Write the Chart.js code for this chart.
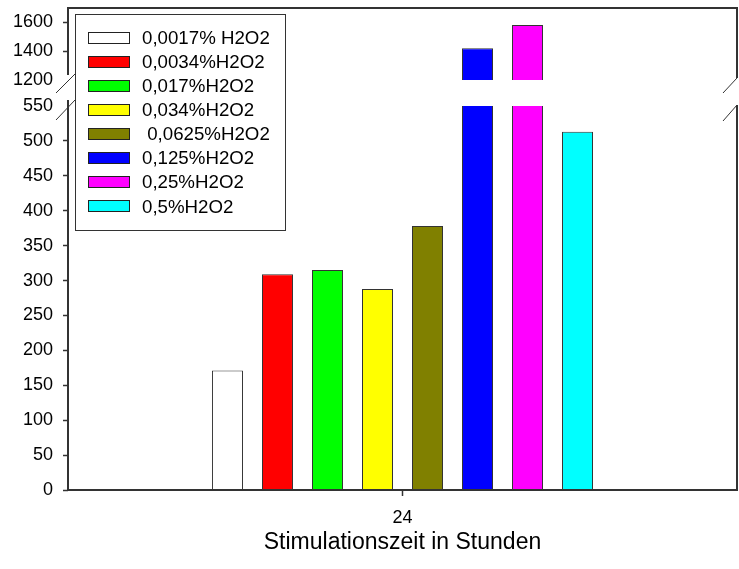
<!DOCTYPE html>
<html lang="de">
<head>
  <meta charset="UTF-8">
  <title>H2O2 Stimulation</title>
  <script src="https://cdn.jsdelivr.net/npm/chart.js@4.4.1/dist/chart.umd.min.js"></script>
  <style>
    html, body { margin: 0; padding: 0; background: #fff; }
    canvas { display: block; }
  </style>
</head>
<body>
  <canvas id="chart" width="739" height="569"></canvas>
  <script>
    // data
    const categories = ['24'];
    const seriesLabels = ['0,0017% H2O2', '0,0034%H2O2', '0,017%H2O2', '0,034%H2O2',
                          ' 0,0625%H2O2', '0,125%H2O2', '0,25%H2O2', '0,5%H2O2'];
    const seriesValues = [171, 309, 315, 288, 378, 1420, 1582, 513];
    const seriesColors = ['#ffffff', '#ff0000', '#00ff00', '#ffff00',
                          '#808000', '#0000ff', '#ff00ff', '#00ffff'];
    const lowerRange = [0, 550];
    const upperRange = [1200, 1700];
    const xTitle = 'Stimulationszeit in Stunden';

    Chart.defaults.font.family = '"Liberation Sans", Arial, sans-serif';
    Chart.defaults.font.size = 18;
    Chart.defaults.color = '#000';

    var datasets = [];
    ['yLow', 'yHigh'].forEach(function(axisId) {
      seriesLabels.forEach(function(label, i) {
        datasets.push({
          label: label,
          data: [seriesValues[i]],
          backgroundColor: seriesColors[i],
          borderColor: '#333',
          borderWidth: 1,
          yAxisID: axisId,
          stack: 's' + i
        });
      });
    });

    function fixWidth(scale) {
      scale.width = 68;
      scale.paddingTop = 0;
      scale.paddingBottom = 0;
    }

    // keep each bar inside the segment of its own y axis
    var clipToAxis = {
      id: 'clipToAxis',
      beforeDatasetDraw: function(chart, args) {
        var y = args.meta.yScale, ca = chart.chartArea, ctx = chart.ctx;
        ctx.save();
        ctx.beginPath();
        ctx.rect(ca.left, y.top, ca.right - ca.left, y.bottom - y.top);
        ctx.clip();
      },
      afterDatasetDraw: function(chart) {
        chart.ctx.restore();
      }
    };

    // frame with the axis break marks
    var framePlugin = {
      id: 'framePlugin',
      afterDatasetsDraw: function(chart) {
        var ctx = chart.ctx, ca = chart.chartArea;
        var a = chart.scales.yHigh.bottom, b = chart.scales.yLow.top;
        var l = ca.left, r = ca.right;
        ctx.save();
        ctx.strokeStyle = '#333';
        ctx.lineWidth = 2;
        ctx.beginPath();
        ctx.moveTo(l - 1, ca.top); ctx.lineTo(r + 1, ca.top);
        ctx.moveTo(l - 1, ca.bottom); ctx.lineTo(r + 1, ca.bottom);
        ctx.moveTo(l, ca.top); ctx.lineTo(l, a - 5);
        ctx.moveTo(l, b - 6); ctx.lineTo(l, ca.bottom);
        ctx.moveTo(r, ca.top); ctx.lineTo(r, a - 2);
        ctx.moveTo(r, b - 1); ctx.lineTo(r, ca.bottom);
        ctx.stroke();
        ctx.lineWidth = 1;
        ctx.beginPath();
        ctx.moveTo(l - 12, a + 13); ctx.lineTo(l + 7, a - 6);
        ctx.moveTo(l - 12, b + 14); ctx.lineTo(l + 7, b - 6);
        ctx.moveTo(r - 14, a + 13); ctx.lineTo(r, a - 2);
        ctx.moveTo(r - 14, b + 15); ctx.lineTo(r, b - 1);
        ctx.stroke();
        ctx.restore();
      }
    };

    // boxed legend inside the plot, top left
    var boxLegend = {
      id: 'boxLegend',
      afterDraw: function(chart) {
        var ctx = chart.ctx;
        ctx.save();
        ctx.fillStyle = '#fff';
        ctx.fillRect(75, 14, 210, 216);
        ctx.strokeStyle = '#333';
        ctx.lineWidth = 1;
        ctx.strokeRect(75.5, 14.5, 210, 216);
        ctx.font = '18.7px "Liberation Sans", Arial, sans-serif';
        ctx.textBaseline = 'middle';
        seriesLabels.forEach(function(label, i) {
          var cy = 37.7 + i * 24.1;
          ctx.fillStyle = seriesColors[i];
          ctx.fillRect(88, Math.round(cy - 6), 42, 12);
          ctx.strokeStyle = '#222';
          ctx.strokeRect(88.5, Math.round(cy - 6) + 0.5, 41, 11);
          ctx.fillStyle = '#000';
          ctx.fillText(label, 142, cy + 1);
        });
        ctx.restore();
      }
    };

    var tickGrid = function(hidden) {
      return {
        drawOnChartArea: false,
        tickLength: 5,
        tickWidth: 1.5,
        tickColor: function(c) {
          return c.tick && c.tick.value === hidden ? 'rgba(0,0,0,0)' : '#333';
        }
      };
    };

    var plainLabel = function(v) { return String(v); };

    new Chart(document.getElementById('chart'), {
      type: 'bar',
      data: { labels: categories, datasets: datasets },
      options: {
        responsive: false,
        animation: false,
        layout: { padding: { top: 8, right: 2, left: 0, bottom: 0 } },
        categoryPercentage: 0.598,
        barPercentage: 0.62,
        plugins: { legend: { display: false }, tooltip: { enabled: false } },
        scales: {
          x: {
            offset: true,
            grid: { offset: false, drawOnChartArea: false, tickLength: 6, tickWidth: 1.5, tickColor: '#333' },
            border: { display: false },
            ticks: { padding: 11 },
            title: { display: true, text: xTitle, font: { size: 23 }, padding: { top: 0, bottom: 13 } },
            afterFit: function(s) {
              s.height = 79;
              s.paddingLeft = 0;
              s.paddingRight = 0;
            }
          },
          yHigh: {
            type: 'linear', position: 'left', stack: 'y', stackWeight: 72, weight: 3,
            min: upperRange[0], max: upperRange[1], beginAtZero: false, stacked: false,
            ticks: { stepSize: 200, includeBounds: false, padding: 10, autoSkip: false, callback: plainLabel },
            grid: tickGrid(upperRange[0]),
            border: { display: false },
            afterFit: fixWidth
          },
          yGap: {
            type: 'linear', position: 'left', stack: 'y', stackWeight: 26, weight: 2,
            min: 0, max: 1,
            ticks: { display: false },
            grid: { display: false, drawTicks: false },
            border: { display: false },
            afterFit: fixWidth
          },
          yLow: {
            type: 'linear', position: 'left', stack: 'y', stackWeight: 384, weight: 1,
            min: lowerRange[0], max: lowerRange[1], stacked: false,
            ticks: { stepSize: 50, padding: 10, autoSkip: false, callback: plainLabel },
            grid: tickGrid(lowerRange[1]),
            border: { display: false },
            afterFit: fixWidth
          }
        }
      },
      plugins: [clipToAxis, framePlugin, boxLegend]
    });
  </script>
</body>
</html>
